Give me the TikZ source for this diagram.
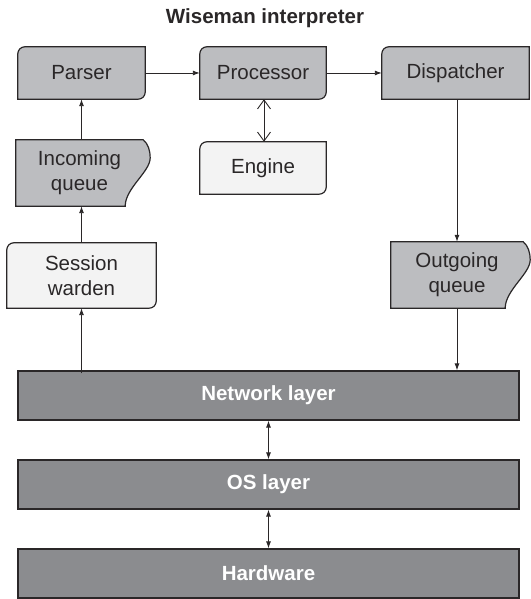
\documentclass[tikz,border=0pt]{standalone}
\usepackage{fontspec}
\setmainfont{Liberation Sans}
\usetikzlibrary{arrows.meta, backgrounds}
\definecolor{boxgray}{HTML}{BCBDC0}
\definecolor{boxlight}{HTML}{F3F3F3}
\definecolor{layergray}{HTML}{8B8C8F}
\definecolor{inkdark}{HTML}{2A2728}

\begin{document}
\begin{tikzpicture}[x=1bp, y=1bp,
  lbl/.style={font=\fontsize{20.5bp}{25bp}\selectfont, text=inkdark, align=center, inner sep=0pt},
  blk/.style={lbl, minimum height=52bp},
  layer/.style={lbl, font=\fontsize{20.5bp}{25bp}\selectfont\bfseries, text=white,
    draw=inkdark, line width=1.2bp, fill=layergray, minimum width=501bp, minimum height=49bp},
  outl/.style={draw=inkdark, line width=1.2bp},
  flow/.style={-{Latex[length=7bp,width=5bp]}, line width=0.9bp, draw=inkdark},
  both/.style={{Latex[length=7bp,width=5bp]}-{Latex[length=7bp,width=5bp]}, line width=0.9bp, draw=inkdark}]

\useasboundingbox (0,0) rectangle (531,599);

% Title
\node[lbl, font=\fontsize{20.5bp}{25bp}\selectfont\bfseries] (title) at (265,581) {Wiseman interpreter};

% Top row
\node[blk, minimum width=127bp] (parser) at (81.5,526) {Parser};
\node[blk, minimum width=126bp] (proc) at (263,526) {Processor};
\node[blk, minimum width=147bp] (disp) at (455.5,526) {Dispatcher};
\node[blk, minimum width=126bp] (engine) at (263,431) {Engine};

% Queues and warden
\node[blk, minimum width=127bp, minimum height=66bp] (inq) at (79.5,426) {Incoming\\queue};
\node[blk, minimum width=149bp, minimum height=65bp] (warden) at (81.5,323.5) {Session\\warden};
\node[blk, minimum width=132bp, minimum height=66bp] (outq) at (457,324) {Outgoing\\queue};

% Layers
\node[layer] (net) at (268.5,203.5) {Network layer};
\node[layer] (os) at (268.5,114.5) {OS layer};
\node[layer] (hw) at (268.5,25.5) {Hardware};

% Box outlines behind the labels
\begin{scope}[on background layer]
\foreach \n/\c in {parser/boxgray, proc/boxgray, engine/boxlight, warden/boxlight}
  \filldraw[outl, fill=\c] (\n.south west) -- ([yshift=-7bp]\n.north west)
    arc[start angle=180, end angle=90, radius=7bp] -- (\n.north east)
    -- ([yshift=7bp]\n.south east) arc[start angle=0, end angle=-90, radius=7bp] -- cycle;
\filldraw[outl, fill=boxgray] (disp.south west) -- ([yshift=-7bp]disp.north west)
  arc[start angle=180, end angle=90, radius=7bp] -- (disp.north east) -- (disp.south east) -- cycle;
\foreach \n in {inq, outq}
  \filldraw[outl, fill=boxgray] (\n.south west) -- (\n.north west) -- (\n.north east)
    .. controls +(5,-4) and +(0,7) .. ([xshift=7bp,yshift=-18bp]\n.north east)
    .. controls +(0,-14) and +(0,18) .. ([xshift=-18bp]\n.south east) -- cycle;
\end{scope}

% Arrows
\draw[flow] (parser) -- (proc);
\draw[flow] (proc) -- (disp);
\draw[{Straight Barb[length=9bp,width=13bp]}-{Straight Barb[length=9bp,width=13bp]}, line width=0.9bp, draw=inkdark]
  ([xshift=1bp]proc.south) -- ([xshift=1bp]engine.north);
\draw[flow] (inq.north -| parser) -- (parser.south);
\draw[flow] (warden.north) -- (warden.north |- inq.south);
\coordinate (netin) at ([yshift=-3bp]net.north -| warden);
\draw[flow] (netin) -- (warden.south);
\draw[flow] (disp.south -| outq) -- (outq.north);
\draw[flow] (outq.south) -- (outq.south |- net.north);
\draw[both] (net.south) -- (os.north);
\draw[both] (os.south) -- (hw.north);
\end{tikzpicture}
\end{document}
